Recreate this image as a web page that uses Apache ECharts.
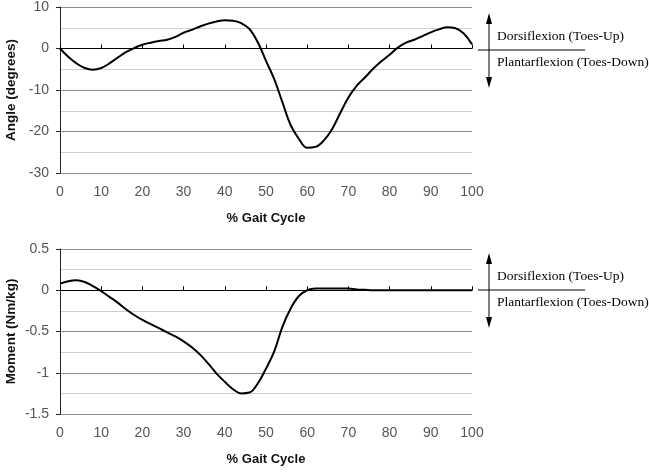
<!DOCTYPE html>
<html><head><meta charset="utf-8">
<script src="https://cdn.jsdelivr.net/npm/echarts@6/dist/echarts.min.js"></script>
<style>html,body{margin:0;padding:0;background:#fff}#c{width:649px;height:472px}</style>
</head><body><div id="c"></div>
<script>
const gaitPct = [0,2,4,6,8,10,12,14,16,18,20,22,24,26,28,30,32,34,36,38,40,42,44,46,48,50,52,54,56,58,60,62,64,66,68,70,72,74,76,78,80,82,84,86,88,90,92,94,96,98,100];
const ankleAngle = [0,-2.0,-3.6,-4.7,-5.1,-4.7,-3.6,-2.2,-0.9,0.1,0.9,1.4,1.8,2.1,2.8,3.8,4.5,5.3,6.0,6.5,6.8,6.7,6.1,4.7,1.5,-3.0,-7.4,-13.0,-18.5,-21.8,-23.9,-23.7,-22.2,-19.5,-15.6,-11.8,-9.0,-7.0,-4.9,-3.1,-1.5,0.2,1.4,2.1,3.0,3.9,4.6,5.1,4.9,3.6,1.0];
const ankleMoment = [0.08,0.11,0.12,0.10,0.05,-0.01,-0.08,-0.15,-0.23,-0.30,-0.36,-0.41,-0.46,-0.51,-0.56,-0.62,-0.69,-0.78,-0.89,-1.01,-1.11,-1.20,-1.25,-1.24,-1.13,-0.95,-0.74,-0.44,-0.22,-0.07,0.00,0.02,0.02,0.02,0.02,0.02,0.01,0.005,0,0,0,0,0,0,0,0,0,0,0,0,0];
const xTitle = '% Gait Cycle';
const yTitles = ['Angle (degrees)', 'Moment (Nm/kg)'];
const upLabel = 'Dorsiflexion (Toes-Up)';
const downLabel = 'Plantarflexion (Toes-Down)';

const chart = echarts.init(document.getElementById('c'));
const lab = {color:'#555', fontFamily:'Arial, "Liberation Sans", sans-serif', fontSize:14};
const grids = [{left:60, top:7, width:412, height:166, containLabel:false, outerBoundsMode:'none'},
               {left:60, top:249, width:412, height:165, containLabel:false, outerBoundsMode:'none'}];
function xAxes(gi){
  return [
    {type:'value', gridIndex:gi, min:0, max:100, interval:10, position:'bottom',
     axisLine:{show:false, onZero:false}, axisTick:{show:false}, splitLine:{show:false},
     axisLabel:Object.assign({margin:12}, lab),
     name:xTitle, nameLocation:'middle', nameGap:39,
     nameTextStyle:{fontFamily:'Arial, "Liberation Sans", sans-serif', fontWeight:'bold', fontSize:13, color:'#111'}},
    {type:'value', gridIndex:gi, min:0, max:100, interval:10, position:'bottom',
     axisLine:{show:true, onZero:true, lineStyle:{color:'#000', width:1}},
     axisTick:{show:true, inside:true, length:4, lineStyle:{color:'#000'}},
     axisLabel:{show:false}, splitLine:{show:false}}
  ];
}
function yAxis(gi, min, max, interval, name, gap){
  return {type:'value', gridIndex:gi, min:min, max:max, interval:interval,
    axisLine:{show:true, onZero:false, lineStyle:{color:'#222', width:1}},
    axisTick:{show:true, length:4, lineStyle:{color:'#222'}},
    axisLabel:Object.assign({margin:11}, lab),
    splitLine:{show:true, lineStyle:{color:'#8c8c8c', width:1}},
    minorTick:{show:false, splitNumber:2},
    minorSplitLine:{show:true, lineStyle:{color:'#cfcfcf', width:1}},
    name:name, nameLocation:'middle', nameGap:gap, nameRotate:90, nameMoveOverlap:false,
    nameTextStyle:{fontFamily:'Arial, "Liberation Sans", sans-serif', fontWeight:'bold', fontSize:13.5, color:'#111'}};
}
function annot(yc){
  const ax = 489, top = yc-37, bot = yc+38;
  return [
    {type:'line', shape:{x1:ax,y1:top+8,x2:ax,y2:bot-8}, style:{stroke:'#000', lineWidth:1}},
    {type:'polygon', shape:{points:[[ax,top],[ax-3,top+11],[ax+3,top+11]]}, style:{fill:'#000'}},
    {type:'polygon', shape:{points:[[ax,bot],[ax-3,bot-11],[ax+3,bot-11]]}, style:{fill:'#000'}},
    {type:'line', shape:{x1:478,y1:yc,x2:585,y2:yc}, style:{stroke:'#000', lineWidth:1}},
    {type:'text', left:497, top:yc-21, style:{text:upLabel, font:'13.5px "Liberation Serif", "Times New Roman", serif', fill:'#000'}},
    {type:'text', left:497, top:yc+5, style:{text:downLabel, font:'13.5px "Liberation Serif", "Times New Roman", serif', fill:'#000'}}
  ];
}
chart.setOption({
  animation:false,
  backgroundColor:'#fff',
  grid:grids,
  xAxis:[...xAxes(0), ...xAxes(1)],
  yAxis:[yAxis(0,-30,10,10,yTitles[0],42), yAxis(1,-1.5,0.5,0.5,yTitles[1],42)],
  series:[
    {type:'line', xAxisIndex:0, yAxisIndex:0, data:gaitPct.map((x,i)=>[x,ankleAngle[i]]), smooth:0.4, showSymbol:false, lineStyle:{color:'#000', width:2}},
    {type:'line', xAxisIndex:2, yAxisIndex:1, data:gaitPct.map((x,i)=>[x,ankleMoment[i]]), smooth:0.4, showSymbol:false, lineStyle:{color:'#000', width:2}}
  ],
  graphic:[...annot(50), ...annot(290)]
});
</script></body></html>
